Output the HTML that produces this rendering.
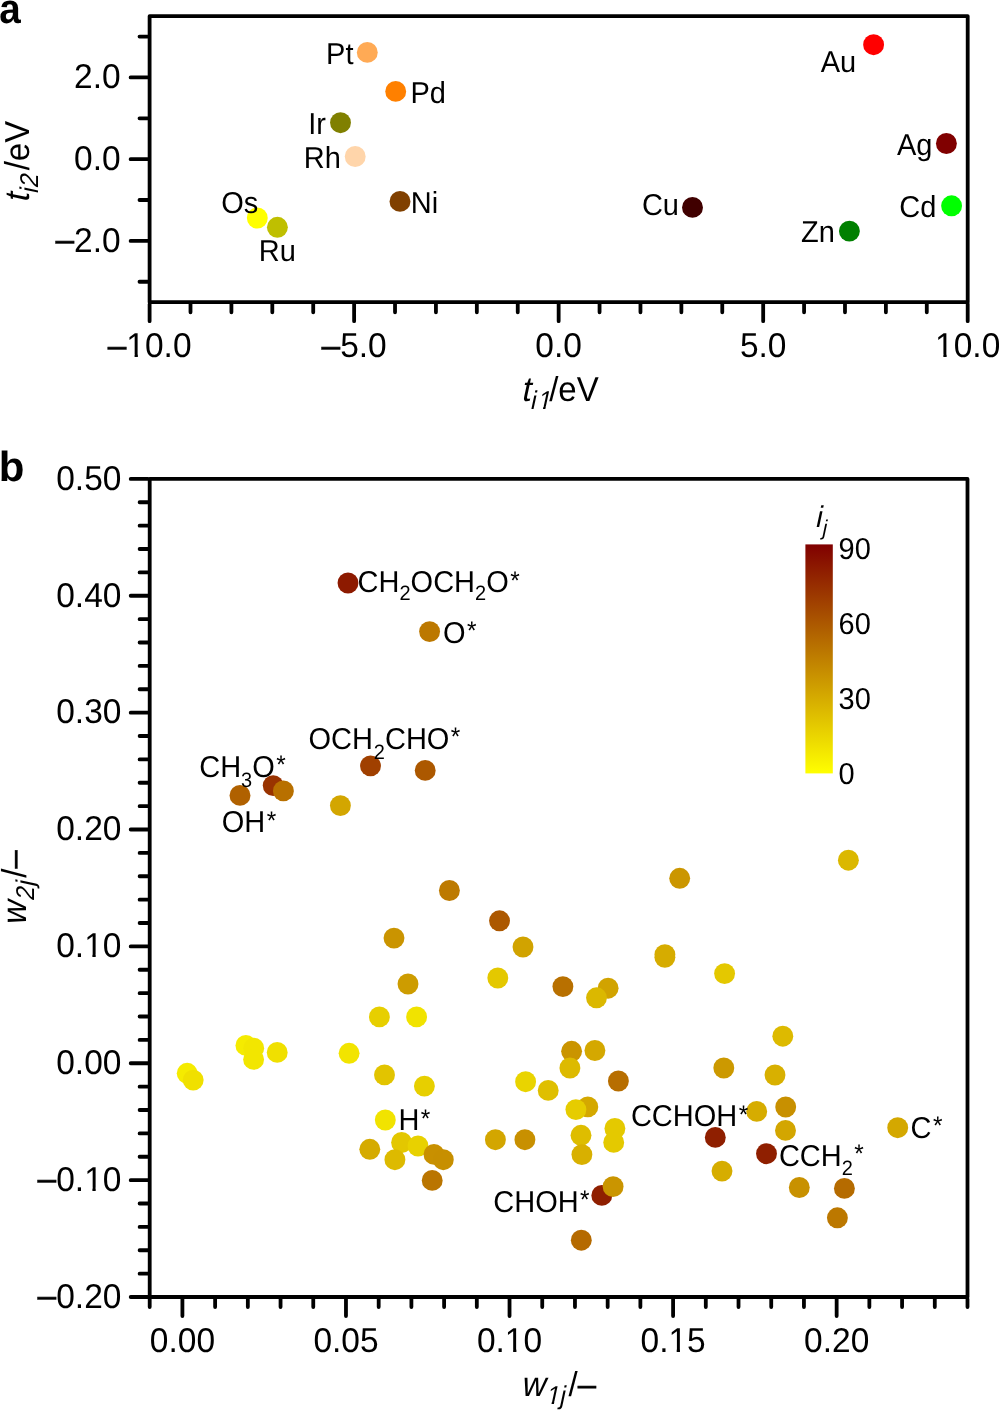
<!DOCTYPE html><html><head><meta charset="utf-8"><style>html,body{margin:0;padding:0;background:#fff;width:999px;height:1410px;overflow:hidden}svg{display:block;will-change:transform}text{font-family:"Liberation Sans", sans-serif;text-rendering:geometricPrecision}</style></head><body>
<svg width="999" height="1410" viewBox="0 0 999 1410">
<defs><linearGradient id="cb" x1="0" y1="1" x2="0" y2="0"><stop offset="0" stop-color="#ffff00"/><stop offset="1" stop-color="#800000"/></linearGradient></defs>
<text transform="translate(-0.7 22.6) scale(0.92 1)" font-size="42" font-weight="bold">a</text>
<text x="-1.2" y="480.9" font-size="42" font-weight="bold">b</text>
<path d="M149.60 304.10V321.20M190.50 304.10V312.30M231.41 304.10V312.30M272.31 304.10V312.30M313.22 304.10V312.30M354.12 304.10V321.20M395.03 304.10V312.30M435.93 304.10V312.30M476.84 304.10V312.30M517.75 304.10V312.30M558.65 304.10V321.20M599.56 304.10V312.30M640.46 304.10V312.30M681.37 304.10V312.30M722.27 304.10V312.30M763.18 304.10V321.20M804.08 304.10V312.30M844.99 304.10V312.30M885.89 304.10V312.30M926.79 304.10V312.30M967.70 304.10V321.20M147.70 281.76H139.50M147.70 240.89H130.60M147.70 200.02H139.50M147.70 159.15H130.60M147.70 118.28H139.50M147.70 77.41H130.60M147.70 36.54H139.50" stroke="#000" stroke-width="3.80" stroke-linecap="round" fill="none"/>
<rect x="149.60" y="16.10" width="818.10" height="286.10" fill="none" stroke="#000" stroke-width="3.80" stroke-linejoin="round"/>
<text transform="translate(120.6 88.41) scale(1 1.03)" font-size="33.5" text-anchor="end">2.0</text>
<text transform="translate(120.6 170.15) scale(1 1.03)" font-size="33.5" text-anchor="end">0.0</text>
<text transform="translate(120.6 251.89) scale(1 1.03)" font-size="33.5" text-anchor="end"><tspan stroke="#000" stroke-width="0.45" dy="-0.6">–</tspan><tspan dy="0.6">2.0</tspan></text>
<text transform="translate(149.60 357.2) scale(1 1.03)" font-size="33.5" text-anchor="middle"><tspan stroke="#000" stroke-width="0.45" dy="-0.6">–</tspan><tspan dy="0.6">10.0</tspan></text>
<text transform="translate(354.12 357.2) scale(1 1.03)" font-size="33.5" text-anchor="middle"><tspan stroke="#000" stroke-width="0.45" dy="-0.6">–</tspan><tspan dy="0.6">5.0</tspan></text>
<text transform="translate(558.65 357.2) scale(1 1.03)" font-size="33.5" text-anchor="middle">0.0</text>
<text transform="translate(763.18 357.2) scale(1 1.03)" font-size="33.5" text-anchor="middle">5.0</text>
<text transform="translate(967.70 357.2) scale(1 1.03)" font-size="33.5" text-anchor="middle">10.0</text>
<text transform="translate(520.80 400.80) skewX(-12) scale(1 1.05)" font-size="33">t</text><text transform="translate(529.70 408.90) skewX(-12) scale(1 1.05)" font-size="24.5">i</text><text transform="translate(536.90 408.90) skewX(-12) scale(1 1.05)" font-size="24.5">1</text><text transform="translate(549.20 400.80) scale(1 1.05)" font-size="33">/eV</text>
<g transform="translate(29.1 200.1) rotate(-90)"><text transform="translate(-3.00 0.00) skewX(-12) scale(1 1.05)" font-size="33">t</text><text transform="translate(5.80 8.40) skewX(-12) scale(1 1.05)" font-size="24.5">i</text><text transform="translate(11.50 8.40) skewX(-12) scale(1 1.05)" font-size="24.5">2</text><text transform="translate(29.80 0.00) scale(1 1.05)" font-size="33">/eV</text></g>
<circle cx="367.3" cy="52.4" r="10.45" fill="#ffaa55"/>
<circle cx="395.7" cy="91.4" r="10.45" fill="#ff8000"/>
<circle cx="340.5" cy="122.7" r="10.45" fill="#808000"/>
<circle cx="355.2" cy="156.5" r="10.45" fill="#ffd5aa"/>
<circle cx="257.3" cy="218.0" r="10.45" fill="#ffff00"/>
<circle cx="277.4" cy="227.3" r="10.45" fill="#bfbf00"/>
<circle cx="400.0" cy="201.4" r="10.45" fill="#804000"/>
<circle cx="692.5" cy="207.4" r="10.45" fill="#400000"/>
<circle cx="873.6" cy="44.7" r="10.45" fill="#ff0000"/>
<circle cx="946.4" cy="143.5" r="10.45" fill="#800000"/>
<circle cx="849.4" cy="231.1" r="10.45" fill="#008000"/>
<circle cx="951.6" cy="205.8" r="10.45" fill="#00ff00"/>
<text transform="translate(326.1 64.1) scale(1 1.044)" font-size="29">Pt</text>
<text transform="translate(410.5 103.1) scale(1 1.044)" font-size="29">Pd</text>
<text transform="translate(308.3 134.0) scale(1 1.044)" font-size="29">Ir</text>
<text transform="translate(303.7 168.0) scale(1 1.044)" font-size="29">Rh</text>
<text transform="translate(221.3 213.0) scale(1 1.044)" font-size="29">Os</text>
<text transform="translate(258.7 260.9) scale(1 1.044)" font-size="29">Ru</text>
<text transform="translate(410.7 212.9) scale(1 1.044)" font-size="29">Ni</text>
<text transform="translate(641.9 215.3) scale(1 1.044)" font-size="29">Cu</text>
<text transform="translate(820.7 71.9) scale(1 1.044)" font-size="29">Au</text>
<text transform="translate(896.9 155.0) scale(1 1.044)" font-size="29">Ag</text>
<text transform="translate(801.1 242.3) scale(1 1.044)" font-size="29">Zn</text>
<text transform="translate(899.3 216.6) scale(1 1.044)" font-size="29">Cd</text>
<path d="M149.70 1298.90V1307.10M182.41 1298.90V1316.00M215.12 1298.90V1307.10M247.84 1298.90V1307.10M280.55 1298.90V1307.10M313.26 1298.90V1307.10M345.97 1298.90V1316.00M378.68 1298.90V1307.10M411.40 1298.90V1307.10M444.11 1298.90V1307.10M476.82 1298.90V1307.10M509.53 1298.90V1316.00M542.24 1298.90V1307.10M574.96 1298.90V1307.10M607.67 1298.90V1307.10M640.38 1298.90V1307.10M673.09 1298.90V1316.00M705.80 1298.90V1307.10M738.52 1298.90V1307.10M771.23 1298.90V1307.10M803.94 1298.90V1307.10M836.65 1298.90V1316.00M869.36 1298.90V1307.10M902.08 1298.90V1307.10M934.79 1298.90V1307.10M967.50 1298.90V1307.10M147.80 1297.00H130.70M147.80 1273.63H139.60M147.80 1250.25H139.60M147.80 1226.88H139.60M147.80 1203.50H139.60M147.80 1180.13H130.70M147.80 1156.75H139.60M147.80 1133.38H139.60M147.80 1110.01H139.60M147.80 1086.63H139.60M147.80 1063.26H130.70M147.80 1039.88H139.60M147.80 1016.51H139.60M147.80 993.13H139.60M147.80 969.76H139.60M147.80 946.39H130.70M147.80 923.01H139.60M147.80 899.64H139.60M147.80 876.26H139.60M147.80 852.89H139.60M147.80 829.51H130.70M147.80 806.14H139.60M147.80 782.77H139.60M147.80 759.39H139.60M147.80 736.02H139.60M147.80 712.64H130.70M147.80 689.27H139.60M147.80 665.89H139.60M147.80 642.52H139.60M147.80 619.15H139.60M147.80 595.77H130.70M147.80 572.40H139.60M147.80 549.02H139.60M147.80 525.65H139.60M147.80 502.27H139.60M147.80 478.90H130.70" stroke="#000" stroke-width="3.80" stroke-linecap="round" fill="none"/>
<rect x="149.70" y="478.90" width="817.80" height="818.10" fill="none" stroke="#000" stroke-width="3.80" stroke-linejoin="round"/>
<text transform="translate(121.4 1307.80) scale(1 1.03)" font-size="33.5" text-anchor="end"><tspan stroke="#000" stroke-width="0.45" dy="-0.6">–</tspan><tspan dy="0.6">0.20</tspan></text>
<text transform="translate(121.4 1190.93) scale(1 1.03)" font-size="33.5" text-anchor="end"><tspan stroke="#000" stroke-width="0.45" dy="-0.6">–</tspan><tspan dy="0.6">0.10</tspan></text>
<text transform="translate(121.4 1074.06) scale(1 1.03)" font-size="33.5" text-anchor="end">0.00</text>
<text transform="translate(121.4 957.19) scale(1 1.03)" font-size="33.5" text-anchor="end">0.10</text>
<text transform="translate(121.4 840.31) scale(1 1.03)" font-size="33.5" text-anchor="end">0.20</text>
<text transform="translate(121.4 723.44) scale(1 1.03)" font-size="33.5" text-anchor="end">0.30</text>
<text transform="translate(121.4 606.57) scale(1 1.03)" font-size="33.5" text-anchor="end">0.40</text>
<text transform="translate(121.4 489.70) scale(1 1.03)" font-size="33.5" text-anchor="end">0.50</text>
<text transform="translate(182.41 1352.3) scale(1 1.03)" font-size="33.5" text-anchor="middle">0.00</text>
<text transform="translate(345.97 1352.3) scale(1 1.03)" font-size="33.5" text-anchor="middle">0.05</text>
<text transform="translate(509.53 1352.3) scale(1 1.03)" font-size="33.5" text-anchor="middle">0.10</text>
<text transform="translate(673.09 1352.3) scale(1 1.03)" font-size="33.5" text-anchor="middle">0.15</text>
<text transform="translate(836.65 1352.3) scale(1 1.03)" font-size="33.5" text-anchor="middle">0.20</text>
<text transform="translate(520.70 1396.00) skewX(-12) scale(1 1.05)" font-size="33">w</text><text transform="translate(545.40 1404.20) skewX(-12) scale(1 1.05)" font-size="24.5">1</text><text transform="translate(558.90 1404.20) skewX(-12) scale(1 1.05)" font-size="24.5">j</text><text transform="translate(568.60 1396.30) scale(1 1.05)" font-size="33">/</text><text transform="translate(577.77 1395.8) scale(1 1.05)" font-size="33" stroke="#000" stroke-width="0.4">–</text>
<g transform="translate(25.8 921.7) rotate(-90)"><text transform="translate(-4.00 0.00) skewX(-12) scale(1 1.05)" font-size="33">w</text><text transform="translate(20.45 8.00) skewX(-12) scale(1 1.05)" font-size="24.5">2</text><text transform="translate(34.60 8.00) skewX(-12) scale(1 1.05)" font-size="24.5">j</text><text transform="translate(44.00 0.00) scale(1 1.05)" font-size="33">/</text><text transform="translate(53.17 -1) scale(1 1.05)" font-size="33" stroke="#000" stroke-width="0.4">–</text></g>
<rect x="805.4" y="544.4" width="27.4" height="229" fill="url(#cb)"/>
<text transform="translate(838.6 559.3) scale(1 1.044)" font-size="29">90</text>
<text transform="translate(838.6 634.2) scale(1 1.044)" font-size="29">60</text>
<text transform="translate(838.6 709.1) scale(1 1.044)" font-size="29">30</text>
<text transform="translate(838.6 784.0) scale(1 1.044)" font-size="29">0</text>
<text transform="translate(814.70 526.80) skewX(-12) scale(1 1.05)" font-size="28.5">i</text><text transform="translate(821.50 535.20) skewX(-12) scale(1 1.05)" font-size="20.5">j</text>
<circle cx="348.0" cy="583.0" r="10.45" fill="#8d1a00"/>
<circle cx="429.6" cy="631.6" r="10.45" fill="#bc7800"/>
<circle cx="370.5" cy="765.9" r="10.45" fill="#a04000"/>
<circle cx="425.2" cy="770.4" r="10.45" fill="#ac5800"/>
<circle cx="240.0" cy="795.4" r="10.45" fill="#b06100"/>
<circle cx="273.2" cy="785.6" r="10.45" fill="#993300"/>
<circle cx="283.4" cy="790.9" r="10.45" fill="#b87000"/>
<circle cx="340.4" cy="805.6" r="10.45" fill="#d3a600"/>
<circle cx="449.4" cy="890.5" r="10.45" fill="#bd7a00"/>
<circle cx="499.5" cy="920.8" r="10.45" fill="#ac5800"/>
<circle cx="394.0" cy="938.1" r="10.45" fill="#ca9400"/>
<circle cx="523.0" cy="947.0" r="10.45" fill="#d1a300"/>
<circle cx="497.8" cy="978.0" r="10.45" fill="#e4c800"/>
<circle cx="408.0" cy="984.0" r="10.45" fill="#cd9c00"/>
<circle cx="679.7" cy="878.3" r="10.45" fill="#cb9600"/>
<circle cx="664.9" cy="954.6" r="10.45" fill="#d6ac00"/>
<circle cx="664.9" cy="957.3" r="10.45" fill="#d6ac00"/>
<circle cx="562.9" cy="986.6" r="10.45" fill="#b87000"/>
<circle cx="608.1" cy="988.2" r="10.45" fill="#d1a300"/>
<circle cx="596.5" cy="997.8" r="10.45" fill="#dbb800"/>
<circle cx="848.4" cy="860.2" r="10.45" fill="#dbb800"/>
<circle cx="724.6" cy="973.6" r="10.45" fill="#e4c800"/>
<circle cx="187.2" cy="1073.3" r="10.45" fill="#f5eb00"/>
<circle cx="193.2" cy="1080.1" r="10.45" fill="#f0e000"/>
<circle cx="245.9" cy="1045.4" r="10.45" fill="#f5eb00"/>
<circle cx="253.7" cy="1048.2" r="10.45" fill="#f2e600"/>
<circle cx="253.6" cy="1059.4" r="10.45" fill="#f2e600"/>
<circle cx="277.2" cy="1052.4" r="10.45" fill="#f0e000"/>
<circle cx="379.4" cy="1016.9" r="10.45" fill="#e7cf00"/>
<circle cx="416.6" cy="1016.9" r="10.45" fill="#f1e300"/>
<circle cx="349.1" cy="1053.3" r="10.45" fill="#f2e400"/>
<circle cx="384.5" cy="1074.9" r="10.45" fill="#e2c400"/>
<circle cx="424.4" cy="1086.1" r="10.45" fill="#e7cf00"/>
<circle cx="385.3" cy="1120.0" r="10.45" fill="#f1e300"/>
<circle cx="369.8" cy="1149.3" r="10.45" fill="#d5ab00"/>
<circle cx="401.6" cy="1142.5" r="10.45" fill="#e3c700"/>
<circle cx="418.0" cy="1146.0" r="10.45" fill="#e8d100"/>
<circle cx="394.9" cy="1159.7" r="10.45" fill="#ddba00"/>
<circle cx="434.0" cy="1154.4" r="10.45" fill="#c89000"/>
<circle cx="443.3" cy="1159.7" r="10.45" fill="#c78f00"/>
<circle cx="432.2" cy="1180.4" r="10.45" fill="#ba7500"/>
<circle cx="571.6" cy="1051.3" r="10.45" fill="#ca9400"/>
<circle cx="594.9" cy="1050.5" r="10.45" fill="#d4a800"/>
<circle cx="569.9" cy="1068.0" r="10.45" fill="#ddba00"/>
<circle cx="525.6" cy="1081.7" r="10.45" fill="#e9d400"/>
<circle cx="548.2" cy="1090.4" r="10.45" fill="#dfbf00"/>
<circle cx="618.4" cy="1081.0" r="10.45" fill="#b76e00"/>
<circle cx="587.8" cy="1106.9" r="10.45" fill="#d4a800"/>
<circle cx="575.9" cy="1109.6" r="10.45" fill="#e6cc00"/>
<circle cx="495.4" cy="1139.7" r="10.45" fill="#d3a600"/>
<circle cx="524.9" cy="1139.7" r="10.45" fill="#c89000"/>
<circle cx="581.0" cy="1135.3" r="10.45" fill="#debd00"/>
<circle cx="581.9" cy="1154.6" r="10.45" fill="#d8b000"/>
<circle cx="614.9" cy="1128.5" r="10.45" fill="#e4c900"/>
<circle cx="613.7" cy="1142.4" r="10.45" fill="#e4c900"/>
<circle cx="601.8" cy="1195.4" r="10.45" fill="#8f1f00"/>
<circle cx="613.1" cy="1186.6" r="10.45" fill="#ca9500"/>
<circle cx="581.3" cy="1240.2" r="10.45" fill="#b56a00"/>
<circle cx="782.8" cy="1036.2" r="10.45" fill="#ddba00"/>
<circle cx="723.8" cy="1068.0" r="10.45" fill="#cc9900"/>
<circle cx="775.0" cy="1075.0" r="10.45" fill="#d8b000"/>
<circle cx="756.7" cy="1111.4" r="10.45" fill="#d6ac00"/>
<circle cx="785.7" cy="1107.0" r="10.45" fill="#c89000"/>
<circle cx="785.5" cy="1130.4" r="10.45" fill="#d3a600"/>
<circle cx="715.3" cy="1137.4" r="10.45" fill="#8f1f00"/>
<circle cx="722.0" cy="1171.1" r="10.45" fill="#d6ad00"/>
<circle cx="766.5" cy="1153.7" r="10.45" fill="#8f1f00"/>
<circle cx="799.3" cy="1187.5" r="10.45" fill="#c89100"/>
<circle cx="844.4" cy="1188.4" r="10.45" fill="#b56b00"/>
<circle cx="837.4" cy="1217.8" r="10.45" fill="#bc7800"/>
<circle cx="897.7" cy="1127.7" r="10.45" fill="#d4a800"/>
<text transform="translate(357.6 592.0) scale(1 1.044)" font-size="29">CH<tspan font-size="20" dx="0" dy="7.6">2</tspan><tspan dy="-7.6">​</tspan>OCH<tspan font-size="20" dx="0" dy="7.6">2</tspan><tspan dy="-7.6">​</tspan>O<tspan font-size="24.4" dx="1.4" dy="-3.3">*</tspan></text>
<text transform="translate(443.0 642.6) scale(1 1.044)" font-size="29">O<tspan font-size="24.4" dx="1.4" dy="-3.3">*</tspan></text>
<text transform="translate(308.4 748.8) scale(1 1.044)" font-size="29">OCH<tspan font-size="20" dx="1" dy="9.3">2</tspan><tspan dy="-9.3">​</tspan>CHO<tspan font-size="24.4" dx="1.4" dy="-3.3">*</tspan></text>
<text transform="translate(199.2 776.7) scale(1 1.044)" font-size="29">CH<tspan font-size="20" dx="0" dy="9.4">3</tspan><tspan dy="-9.4">​</tspan>O<tspan font-size="24.4" dx="1.4" dy="-3.3">*</tspan></text>
<text transform="translate(221.8 832.4) scale(1 1.044)" font-size="29">OH<tspan font-size="24.4" dx="1.4" dy="-3.3">*</tspan></text>
<text transform="translate(398.4 1130.1) scale(1 1.044)" font-size="29">H<tspan font-size="24.4" dx="1.4" dy="-3.3">*</tspan></text>
<text transform="translate(493.3 1211.6) scale(1 1.044)" font-size="29">CHOH<tspan font-size="24.4" dx="1.4" dy="-3.3">*</tspan></text>
<text transform="translate(630.9 1126.0) scale(1 1.044)" font-size="29">CCHOH<tspan font-size="24.4" dx="1.4" dy="-3.3">*</tspan></text>
<text transform="translate(778.9 1165.7) scale(1 1.044)" font-size="29">CCH<tspan font-size="20" dx="0" dy="8.9">2</tspan><tspan dy="-8.9">​</tspan><tspan font-size="24.4" dx="1.4" dy="-3.3">*</tspan></text>
<text transform="translate(910.6 1137.6) scale(1 1.044)" font-size="29">C<tspan font-size="24.4" dx="1.4" dy="-3.3">*</tspan></text>
<path transform="translate(126.32 357.20) skewX(0) scale(0.01636 0.01685)" d="M100 45H505V-195H100ZM706 45H1110V-195H706Z" fill="#fff"/><path transform="translate(935.10 357.20) skewX(0) scale(0.01636 0.01685)" d="M100 45H505V-195H100ZM706 45H1110V-195H706Z" fill="#fff"/><path transform="translate(536.90 408.90) skewX(-12) scale(0.01196 0.01256)" d="M100 45H505V-195H100ZM706 45H1110V-195H706Z" fill="#fff"/><path transform="translate(84.14 1190.93) skewX(0) scale(0.01636 0.01685)" d="M100 45H505V-195H100ZM706 45H1110V-195H706Z" fill="#fff"/><path transform="translate(84.14 957.19) skewX(0) scale(0.01636 0.01685)" d="M100 45H505V-195H100ZM706 45H1110V-195H706Z" fill="#fff"/><path transform="translate(504.87 1352.30) skewX(0) scale(0.01636 0.01685)" d="M100 45H505V-195H100ZM706 45H1110V-195H706Z" fill="#fff"/><path transform="translate(668.43 1352.30) skewX(0) scale(0.01636 0.01685)" d="M100 45H505V-195H100ZM706 45H1110V-195H706Z" fill="#fff"/><path transform="translate(545.40 1404.20) skewX(-12) scale(0.01196 0.01256)" d="M100 45H505V-195H100ZM706 45H1110V-195H706Z" fill="#fff"/>
</svg></body></html>
